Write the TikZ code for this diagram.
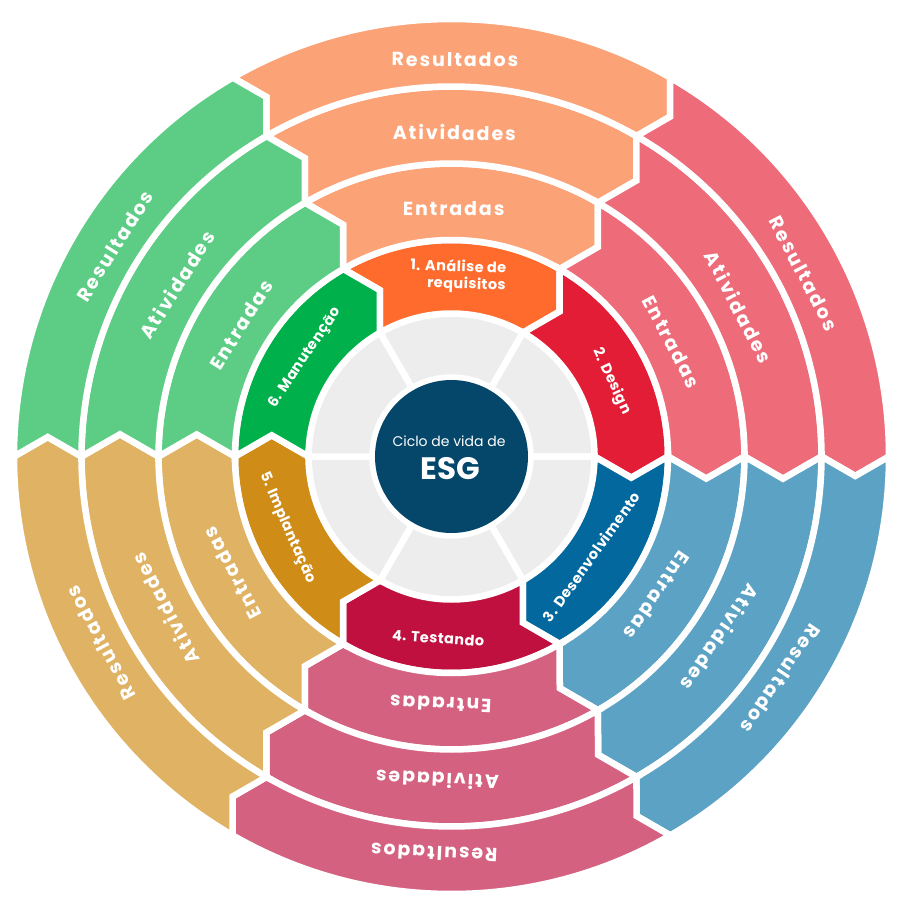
\documentclass[tikz,border=0pt]{standalone}
\usepackage{fontspec}
\setmainfont{Poppins}
\usetikzlibrary{calc}
\definecolor{ph1}{HTML}{FE6B2C}
\definecolor{ph2}{HTML}{E31D36}
\definecolor{ph3}{HTML}{03689E}
\definecolor{ph4}{HTML}{C0103F}
\definecolor{ph5}{HTML}{CF8C17}
\definecolor{ph6}{HTML}{00B04A}
\definecolor{lt1}{HTML}{FBA276}
\definecolor{lt2}{HTML}{EE6B7A}
\definecolor{lt3}{HTML}{5CA2C4}
\definecolor{lt4}{HTML}{D56181}
\definecolor{lt5}{HTML}{DFB264}
\definecolor{lt6}{HTML}{5DCD86}
\definecolor{greyc}{HTML}{EDEDED}
\definecolor{esgc}{HTML}{05476A}
\newcommand\RingSeg[4]{%
  \pgfmathsetmacro\aA{#4+30}%
  \pgfmathsetmacro\aB{#4-30}%
  \pgfmathsetmacro\aAt{#4-60}%
  \pgfmathsetmacro\aBt{#4-120}%
  \pgfmathsetmacro\rM{(#2+#3)/2}%
  \pgfmathsetmacro\hK{(#3-#2)/2*tan(30)}%
  \filldraw[seg, fill=#1] (\aA:#3pt) arc[start angle=\aA, end angle=\aB, radius=#3pt]
    -- ($(\aB:\rM pt)+(\aBt:\hK pt)$) -- (\aB:#2pt)
    arc[start angle=\aB, end angle=\aA, radius=#2pt]
    -- ($(\aA:\rM pt)+(\aAt:\hK pt)$) -- cycle;
}
\newcommand\GreySeg[1]{%
  \pgfmathsetmacro\aA{#1+30}%
  \pgfmathsetmacro\aB{#1-30}%
  \filldraw[seg, fill=greyc] (\aA:143pt) arc[start angle=\aA, end angle=\aB, radius=143pt]
    -- (\aB:79pt) arc[start angle=\aB, end angle=\aA, radius=79pt] -- cycle;
}
\begin{document}
\begin{tikzpicture}[x=1pt,y=1pt,
  seg/.style={draw=white, line width=6.5pt, line join=miter},
  outerlab/.style={text=white, inner sep=0pt, font=\bfseries\fontsize{19}{22}\selectfont\addfontfeature{LetterSpace=10}},
  phaselab/.style={text=white, inner sep=0pt, font=\bfseries\fontsize{14.5}{17}\selectfont\addfontfeature{LetterSpace=3}},
]
\useasboundingbox (-451.5,-454.5) rectangle (448.5,456.5);
% rings
\foreach \c/\co/\cl in {90/ph1/lt1, 30/ph2/lt2, -30/ph3/lt3, -90/ph4/lt4, -150/ph5/lt5, 150/ph6/lt6}{
  \GreySeg{\c}
  \RingSeg{\co}{143}{216.5}{\c}
  \RingSeg{\cl}{216.5}{293}{\c}
  \RingSeg{\cl}{293}{370}{\c}
  \RingSeg{\cl}{370}{437.5}{\c}
}
% centre
\node[circle, fill=esgc, minimum size=153pt, inner sep=0pt] (esg) at (0,0) {};
\node[text=white, inner sep=0pt, font=\fontsize{14}{17}\selectfont] (ciclo) at (-2.5,14.8) {Ciclo de vida de};
\node[text=white, inner sep=0pt, font=\bfseries\fontsize{31}{36}\selectfont] (esgt) at (-1.5,-12.5) {ESG};
% outer labels
\foreach \n/\a in {1/89.5, 2/27.5, 3/326, 4/267.5, 5/208, 6/148}{
  \pgfmathsetmacro\rot{\a-90}
  \node[outerlab, rotate=\rot] (res-\n) at (\a:397pt) {Resultados};
  \node[outerlab, rotate=\rot] (ati-\n) at (\a:324pt) {Atividades};
  \node[outerlab, rotate=\rot] (ent-\n) at (\a:248pt) {Entradas};
}
% phase labels
\node[phaselab, rotate=-2, align=right] (p1) at (87.9:180.6pt) {1. Análise de\\requisitos};
\node[phaselab, rotate=-64.8] (p2) at (25.2:177pt) {2. Design};
\node[phaselab, rotate=54.4] (p3) at (324.4:172pt) {3. Desenvolvimento};
\node[phaselab, rotate=-4] (p4) at (265.8:182pt) {4. Testando};
\node[phaselab, rotate=-66.5] (p5) at (203.5:179pt) {5. Implantação};
\node[phaselab, rotate=56] (p6) at (146:176.5pt) {6. Manutenção};
\end{tikzpicture}
\end{document}
